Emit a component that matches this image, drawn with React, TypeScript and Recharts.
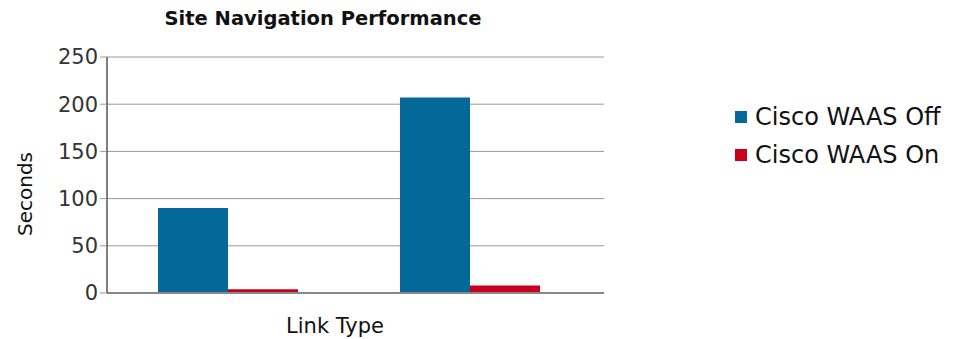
import React from 'react';
import { BarChart, Bar, XAxis, YAxis, CartesianGrid } from 'recharts';

const categories = ['Link A', 'Link B'];
const waasOff = [90, 207];
const waasOn = [4, 8];
const yTicks = [0, 50, 100, 150, 200, 250];
const seriesNames = ['Cisco WAAS Off', 'Cisco WAAS On'];
const seriesColors = ['#046899', '#C8001E'];

const data = categories.map((c, i) => ({ name: c, off: waasOff[i], on: waasOn[i] }));

const FONT = '"DejaVu Sans", sans-serif';

export default function App() {
  return (
    <div style={{ position: 'absolute', left: 0, top: 0, width: 958, height: 339, background: '#fff', fontFamily: FONT }}>
      <div style={{ position: 'absolute', left: 0, width: 646, top: 7, textAlign: 'center', fontSize: 19.5, fontWeight: 'bold', color: '#111' }}>
        Site Navigation Performance
      </div>
      <div style={{ position: 'absolute', left: 25, top: 194, transform: 'translate(-50%, -50%) rotate(-90deg)', fontSize: 20, color: '#111', whiteSpace: 'nowrap' }}>
        Seconds
      </div>
      <div style={{ position: 'absolute', left: 335, top: 326, transform: 'translate(-50%, -50%)', fontSize: 21, color: '#111', whiteSpace: 'nowrap' }}>
        Link Type
      </div>
      <div style={{ position: 'absolute', left: 735, top: 98 }}>
        {seriesNames.map((n, i) => (
          <div key={n} style={{ display: 'flex', alignItems: 'center', height: 38 }}>
            <div style={{ width: 12, height: 12, background: seriesColors[i], marginRight: 8 }} />
            <span style={{ fontSize: 24, color: '#111', whiteSpace: 'nowrap' }}>{n}</span>
          </div>
        ))}
      </div>
      <BarChart
        width={958}
        height={339}
        data={data}
        margin={{ top: 57, right: 354, bottom: 45, left: 0 }}
        barSize={70}
        barGap={0}
      >
        <CartesianGrid vertical={false} stroke="#999" strokeWidth={1} />
        <XAxis dataKey="name" height={1} tick={false} tickLine={false} padding={{ left: 0, right: 13 }} axisLine={{ stroke: '#888', strokeWidth: 2 }} />
        <YAxis
          width={107}
          domain={[0, 250]}
          ticks={yTicks}
          interval={0}
          tickLine={{ stroke: '#999' }}
          tickSize={7}
          axisLine={{ stroke: '#000', strokeWidth: 1 }}
          tick={{ fontSize: 21, fill: '#333', fontFamily: FONT }}
        />
        <Bar dataKey="off" name={seriesNames[0]} fill={seriesColors[0]} isAnimationActive={false} />
        <Bar dataKey="on" name={seriesNames[1]} fill={seriesColors[1]} isAnimationActive={false} />
      </BarChart>
    </div>
  );
}
